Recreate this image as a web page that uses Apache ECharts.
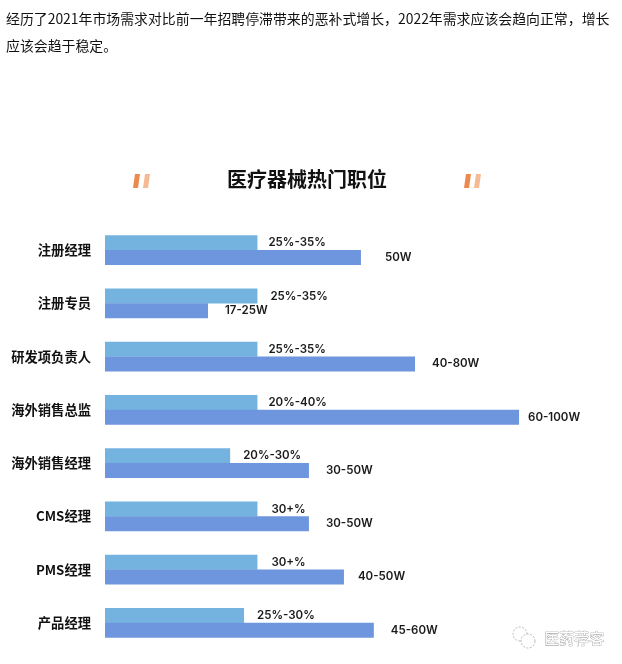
<!DOCTYPE html>
<html><head><meta charset="utf-8">
<style>html,body{margin:0;padding:0;background:#fff}#c{width:622px;height:664px}</style>
<script src="https://cdn.jsdelivr.net/npm/echarts@6/dist/echarts.min.js"></script>
</head><body><div id="c"></div>
<script>
const categories = ['注册经理','注册专员','研发项负责人','海外销售总监','海外销售经理','CMS经理','PMS经理','产品经理'];
const raiseValues = [29.6,29.6,29.6,29.6,24.3,29.6,29.6,27];
const raiseLabels = ['25%-35%','25%-35%','25%-35%','20%-40%','20%-30%','30+%','30+%','25%-30%'];
const salaryValues = [49.7,20,60.2,80.4,39.6,39.6,46.4,52.2];
const salaryLabels = ['50W','17-25W','40-80W','60-100W','30-50W','30-50W','40-50W','45-60W'];
const introLines = ['经历了2021年市场需求对比前一年招聘停滞带来的恶补式增长，2022年需求应该会趋向正常，增长','应该会趋于稳定。'];
const titleText = '医疗器械热门职位';
const watermark = '医药荐客';

const cjk = '"Noto Sans CJK SC","Noto Sans",sans-serif';
const lat = 'Inter,"Noto Sans CJK SC",sans-serif';
const raiseGap = [11,13,11,11,13,14,14,13];
const salaryGap = [24,17,17,9,17,17,14,17];
const chart = echarts.init(document.getElementById('c'), null, {renderer:'canvas'});
const tick = (x,y,c)=>({type:'polygon',shape:{points:[[x+2,y],[x+7,y],[x+5,y+14],[x,y+14]]},style:{fill:c},silent:true});
const lab = (gap,i)=>({distance:gap[i]});
chart.setOption({
  animation:false,
  backgroundColor:'#fff',
  grid:{left:105,top:223.5,width:515,height:426,containLabel:false},
  xAxis:{type:'value',min:0,max:100,show:false},
  yAxis:{type:'category',inverse:true,data:categories,
    axisLine:{show:false},axisTick:{show:false},
    axisLabel:{margin:14,fontFamily:cjk,fontSize:13.3,fontWeight:'bold',color:'#111',padding:[0,0,2,0]}},
  title:{text:titleText,left:222,top:161,itemGap:0,
    textStyle:{fontFamily:cjk,fontSize:20,fontWeight:'bold',color:'#111',lineHeight:26}},
  series:[
    {type:'bar',barWidth:15,barGap:'-3%',barCategoryGap:'40%',z:2,
     itemStyle:{color:'#74b3e0'},
     data:raiseValues.map((v,i)=>({value:v,label:lab(raiseGap,i)})),
     label:{show:true,position:'right',color:'#1a1a1a',fontFamily:lat,fontSize:11.5,fontWeight:600,
       formatter:p=>raiseLabels[p.dataIndex]}},
    {type:'bar',barWidth:15,z:3,
     itemStyle:{color:'#6e96de'},
     data:salaryValues.map((v,i)=>({value:v,label:lab(salaryGap,i)})),
     label:{show:true,position:'right',color:'#1a1a1a',fontFamily:lat,fontSize:11.5,fontWeight:600,
       formatter:p=>salaryLabels[p.dataIndex]}}
  ],
  graphic:[
    {type:'text',left:6,top:12,style:{text:introLines[0],font:'13.9px '+cjk,fill:'#111'}},
    {type:'text',left:6,top:39,style:{text:introLines[1],font:'13.9px '+cjk,fill:'#111'}},
    tick(133,174,'#ec8a4e'),tick(143,174,'#f5b993'),
    tick(464,174,'#ec8a4e'),tick(474,174,'#f5b993'),
    {type:'circle',shape:{cx:520,cy:634,r:7},style:{fill:'none',stroke:'#999',lineWidth:.7,lineDash:[2,1.5]}},
    {type:'circle',shape:{cx:528,cy:641,r:7},style:{fill:'#fff',stroke:'#999',lineWidth:.7,lineDash:[2,1.5]}},
    {type:'text',left:544,top:630,style:{text:watermark,font:'15px '+cjk,fill:'#fff',stroke:'#888',lineWidth:.6}}
  ]
});
</script></body></html>
